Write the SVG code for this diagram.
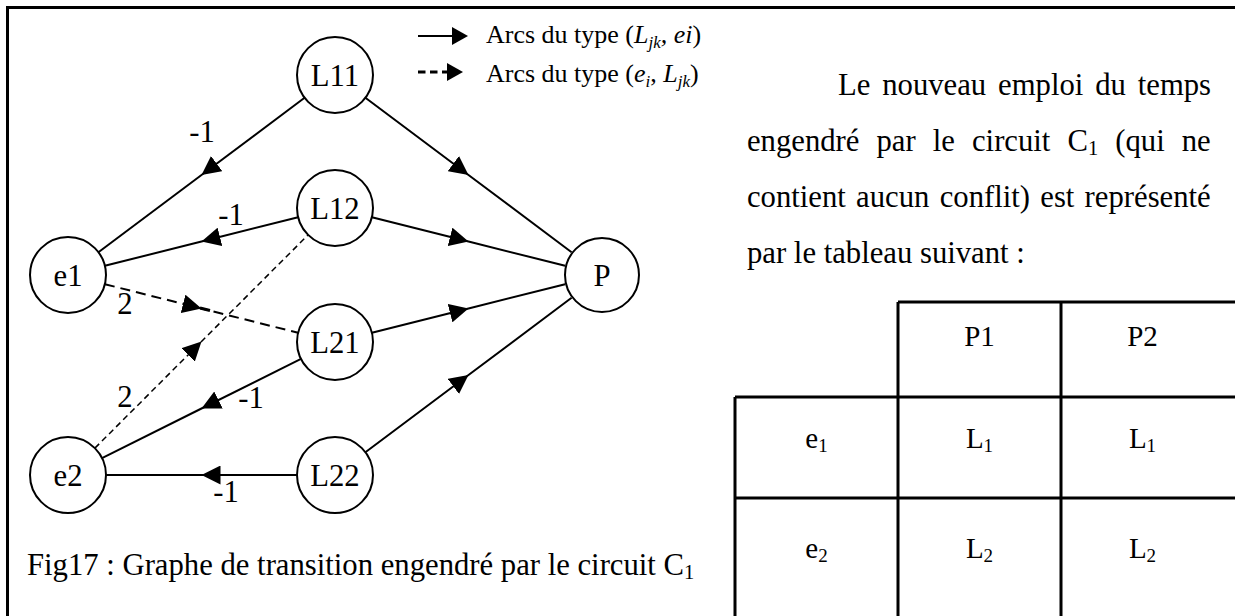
<svg xmlns="http://www.w3.org/2000/svg" width="1235" height="616" viewBox="0 0 1235 616" font-family="'Liberation Serif', 'Times New Roman', serif">
<defs>
<marker id="ah" markerUnits="userSpaceOnUse" markerWidth="19" markerHeight="19" viewBox="0 0 19 19" refX="19" refY="9.5" orient="auto"><path d="M0,0 L19,9.5 L0,19 z" fill="#000"/></marker>
<style>
text{font-family:'Liberation Serif','Times New Roman',serif;fill:#000}
.node circle{fill:#fff;stroke:#000;stroke-width:2}
.nt{font-size:30.7px;text-anchor:middle}
.lbl{font-size:30.7px;text-anchor:middle}
.edge{fill:none;stroke:#000;stroke-width:2;marker-mid:url(#ah)}
.dash{stroke-dasharray:10 6}
.dash2{stroke-width:1.5;stroke-dasharray:6 4}
.grid{stroke:#000;stroke-width:3;fill:none}
.para{font-size:30.7px}
.cell{font-size:29px;text-anchor:middle}
</style>
</defs>
<rect width="1235" height="616" fill="#fff"/>
<path class="grid" d="M7.5,616 V7.5 H1235"/>

<g id="connectors" font-family="'Liberation Serif', 'Times New Roman', serif">
<path class="edge" d="M304.6,97.8 L201.5,175 L98.4,252.2"/>
<path class="edge" d="M298.1,217.2 L201.5,241.5 L104.9,265.8"/>
<path class="edge dash" d="M104.9,284.2 L201.5,308.5 L298.1,332.8"/>
<path d="M200,308 L210,310.5" stroke="#000" stroke-width="3"/>
<path class="edge dash2" d="M94.9,448.1 L201.5,341.5 L308.1,234.9"/>
<path class="edge" d="M301,358.9 L201.5,408.5 L102,458.1"/>
<path class="edge" d="M297,475 L201.5,475 L106,475"/>
<path class="edge" d="M365.4,97.8 L468.5,175 L571.6,252.2"/>
<path class="edge" d="M371.9,217.2 L468.5,241.5 L565.1,265.8"/>
<path class="edge" d="M371.9,332.8 L468.5,308.5 L565.1,284.2"/>
<path class="edge" d="M365.4,452.2 L468.5,375 L571.6,297.8"/>
<text class="lbl" x="202" y="142" font-family="'Liberation Serif', serif">-1</text>
<text class="lbl" x="231" y="225" font-family="'Liberation Serif', serif">-1</text>
<text class="lbl" x="125" y="314" font-family="'Liberation Serif', serif">2</text>
<text class="lbl" x="125" y="407" font-family="'Liberation Serif', serif">2</text>
<text class="lbl" x="251" y="408" font-family="'Liberation Serif', serif">-1</text>
<text class="lbl" x="226" y="502" font-family="'Liberation Serif', serif">-1</text>
</g>

<g id="L11" class="node"><circle cx="335" cy="75" r="38"/><text class="nt" x="335" y="85.5" font-family="'Liberation Serif', serif">L11</text></g>
<g id="L12" class="node"><circle cx="335" cy="208" r="38"/><text class="nt" x="335" y="218.5" font-family="'Liberation Serif', serif">L12</text></g>
<g id="L21" class="node"><circle cx="335" cy="342" r="38"/><text class="nt" x="335" y="352.5" font-family="'Liberation Serif', serif">L21</text></g>
<g id="L22" class="node"><circle cx="335" cy="475" r="38"/><text class="nt" x="335" y="485.5" font-family="'Liberation Serif', serif">L22</text></g>
<g id="e1" class="node"><circle cx="68" cy="275" r="38"/><text class="nt" x="68" y="285.5" font-family="'Liberation Serif', serif">e1</text></g>
<g id="e2" class="node"><circle cx="68" cy="475" r="38"/><text class="nt" x="68" y="485.5" font-family="'Liberation Serif', serif">e2</text></g>
<g id="P" class="node"><circle cx="602" cy="275" r="37"/><text class="nt" x="602" y="285.5" font-family="'Liberation Serif', serif">P</text></g>

<g id="legend">
<line x1="418" y1="36" x2="453" y2="36" stroke="#000" stroke-width="2"/>
<polygon points="452,27 468,36 452,45" fill="#000"/>
<line x1="418" y1="72" x2="448" y2="72" stroke="#000" stroke-width="3" stroke-dasharray="7.5 4.5"/>
<polygon points="447,63 463,72 447,81" fill="#000"/>
<text x="486" y="43" font-size="26">Arcs du type (<tspan font-style="italic">L</tspan><tspan font-style="italic" font-size="17" dy="5">jk</tspan><tspan dy="-5" font-style="italic">, ei</tspan>)</text>
<text x="486" y="82" font-size="26">Arcs du type (<tspan font-style="italic">e</tspan><tspan font-style="italic" font-size="17" dy="5">i</tspan><tspan dy="-5">, </tspan><tspan font-style="italic">L</tspan><tspan font-style="italic" font-size="17" dy="5">jk</tspan><tspan dy="-5">)</tspan></text>
</g>

<g id="paragraph">
<text class="para" x="838" y="95" word-spacing="4.2">Le nouveau emploi du temps</text>
<text class="para" x="747" y="151" word-spacing="9.4">engendré par le circuit C<tspan font-size="20.5" dy="4">1</tspan><tspan dy="-4"> (qui ne</tspan></text>
<text class="para" x="747" y="207" word-spacing="2.6">contient aucun conflit) est représenté</text>
<text class="para" x="747" y="263">par le tableau suivant :</text>
</g>

<g id="table">
<path class="grid" d="M898,302 H1235 M735,397 H1235 M735,498 H1235 M735,397 V616 M898,302 V616 M1061,302 V616"/>
<text class="cell" x="979.5" y="346">P1</text>
<text class="cell" x="1142.5" y="346">P2</text>
<text class="cell" x="816.5" y="448">e<tspan font-size="19" dy="4">1</tspan></text>
<text class="cell" x="979.5" y="448">L<tspan font-size="19" dy="4">1</tspan></text>
<text class="cell" x="1142.5" y="448">L<tspan font-size="19" dy="4">1</tspan></text>
<text class="cell" x="816.5" y="558">e<tspan font-size="19" dy="4">2</tspan></text>
<text class="cell" x="979.5" y="558">L<tspan font-size="19" dy="4">2</tspan></text>
<text class="cell" x="1142.5" y="558">L<tspan font-size="19" dy="4">2</tspan></text>
</g>

<g id="caption">
<text x="27" y="575" font-size="30.7">Fig17 : Graphe de transition engendré par le circuit C<tspan font-size="20.5" dy="4">1</tspan></text>
</g>
</svg>
